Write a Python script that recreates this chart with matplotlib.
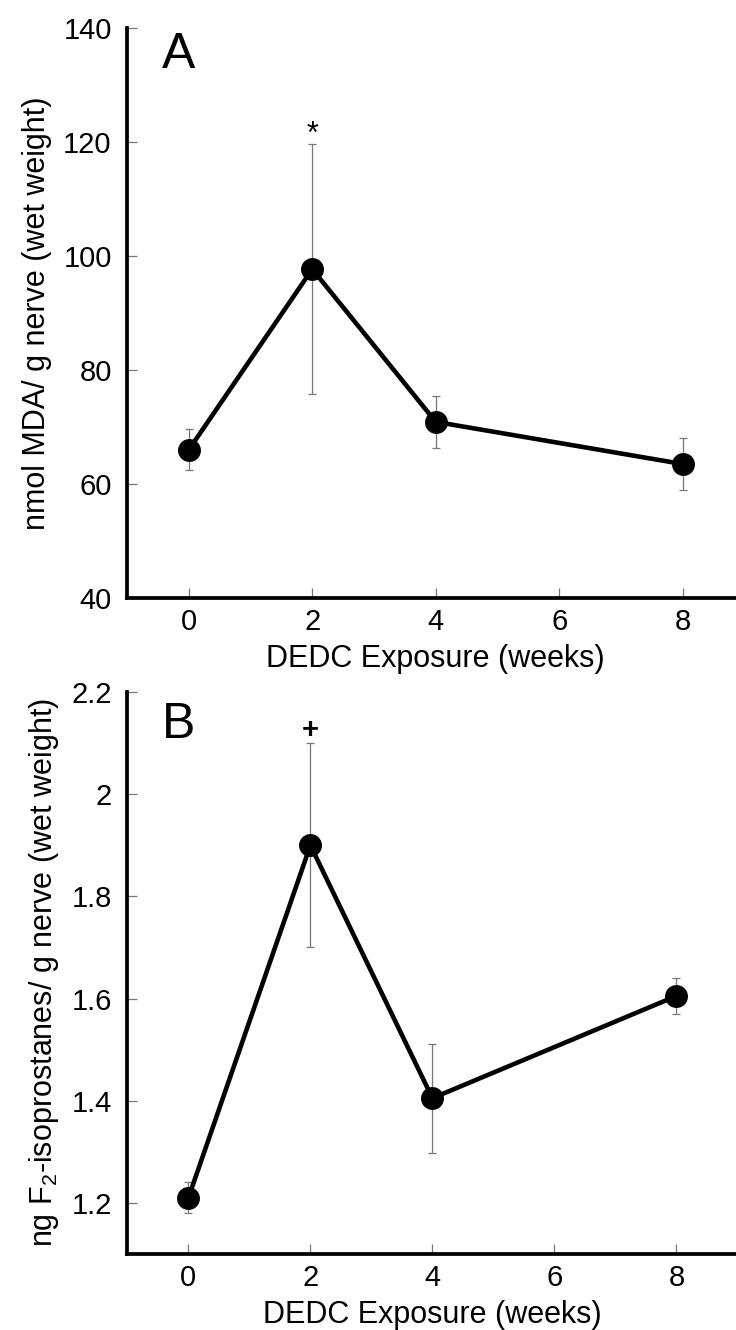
import matplotlib
matplotlib.use("Agg")
import matplotlib.pyplot as plt

plt.rcParams['font.family'] = ['Liberation Sans', 'DejaVu Sans']
plt.rcParams['mathtext.fontset'] = 'custom'
plt.rcParams['mathtext.rm'] = 'Liberation Sans'
plt.rcParams['mathtext.it'] = 'Liberation Sans'

# ---- data ----
weeks = [0, 2, 4, 8]
xticks = [0, 2, 4, 6, 8]

mda_mean = [66.0, 97.7, 70.9, 63.5]
mda_err = [3.6, 21.9, 4.5, 4.6]
mda_yticks = [40, 60, 80, 100, 120, 140]

iso_mean = [1.21, 1.90, 1.405, 1.605]
iso_err = [0.03, 0.20, 0.107, 0.035]
iso_yticks = [1.2, 1.4, 1.6, 1.8, 2.0, 2.2]
iso_yticklabels = ['1.2', '1.4', '1.6', '1.8', '2', '2.2']

xlabel = 'DEDC Exposure (weeks)'
ylabel_a = 'nmol MDA/ g nerve (wet weight)'
ylabel_b = 'ng F$_2$-isoprostanes/ g nerve (wet weight)'

fig = plt.figure(figsize=(7.36, 13.3), dpi=100)
W, H = 736, 1330

def make_axes(left, right, top, bottom):
    return fig.add_axes([left / W, 1 - bottom / H, (right - left) / W, (bottom - top) / H])

axA = make_axes(127, 744.5, 28, 598)
axB = make_axes(127.4, 737.4, 692, 1254)

def style(ax):
    for s in ['top', 'right']:
        ax.spines[s].set_visible(False)
    for s in ['left', 'bottom']:
        ax.spines[s].set_linewidth(2.7)
        ax.spines[s].set_color('black')
    ax.tick_params(axis='both', direction='in', length=7, width=0.9, color='#777777',
                   labelsize=21, labelcolor='black')
    ax.tick_params(axis='y', pad=11)
    ax.tick_params(axis='x', pad=7)
    ax.set_xlim(-1, 9)
    ax.set_xticks(xticks)
    ax.set_xlabel(xlabel, fontsize=22, labelpad=6)

def draw(ax, mean, err):
    ax.errorbar(weeks, mean, yerr=err, fmt='none', ecolor='#777777', elinewidth=0.9,
                capsize=3.0, capthick=0.9, zorder=2)
    ax.plot(weeks, mean, color='black', linewidth=3.3, marker='o', markersize=15.5,
            markerfacecolor='black', markeredgecolor='black', zorder=3, clip_on=False)

# Panel A
style(axA)
draw(axA, mda_mean, mda_err)
axA.set_ylim(40, 140)
axA.set_yticks(mda_yticks)
axA.set_ylabel(ylabel_a, fontsize=22, labelpad=8)
axA.text(2, mda_mean[1] + mda_err[1] + 1.6, '*', ha='center', va='center', fontsize=22)
axA.text(0.057, 0.93, 'A', transform=axA.transAxes, fontsize=36, va='baseline', ha='left')

# Panel B
style(axB)
draw(axB, iso_mean, iso_err)
axB.set_ylim(1.1, 2.2)
axB.set_yticks(iso_yticks)
axB.set_yticklabels(iso_yticklabels)
axB.set_ylabel(ylabel_b, fontsize=22, labelpad=8)
axB.text(2, iso_mean[1] + iso_err[1] + 0.026, '+', ha='center', va='center', fontsize=21,
         fontweight='bold')
axB.text(0.057, 0.918, 'B', transform=axB.transAxes, fontsize=36, va='baseline', ha='left')

fig.savefig('out.png', dpi=100)
